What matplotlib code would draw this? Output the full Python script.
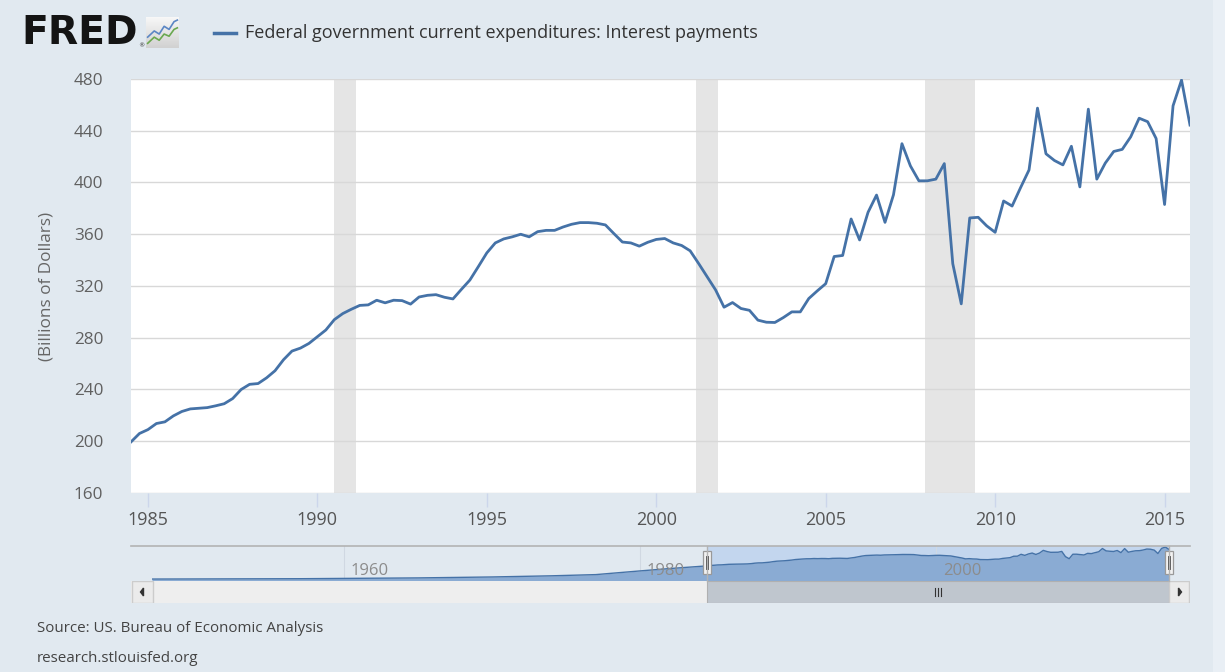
import matplotlib
matplotlib.use("Agg")
import matplotlib.pyplot as plt
from matplotlib.patches import Rectangle
from matplotlib.lines import Line2D
import numpy as np

plt.rcParams['font.family'] = ['Open Sans', 'DejaVu Sans']

# ---------------- data ----------------
start_year = 1984
start_quarter = 3
interest = [
    199.5, 206, 209, 213.7, 215, 219.6, 223, 225, 225.5, 226, 227.4, 229, 233,
    240, 244, 244.6, 249, 254.5, 263, 269.7, 272, 275.6, 280.8, 286, 294, 298.7,
    302, 305, 305.4, 309, 307, 309, 308.7, 306, 311.5, 312.8, 313.3, 311.3, 310,
    317.4, 324.6, 335, 345.6, 353.3, 356.4, 358, 360, 358, 362,
    363, 363, 365.6, 367.7, 369, 369, 368.5, 367.2, 360.5, 354, 353.3, 350.8,
    353.8, 356, 356.7, 353.3, 351.3, 347.2, 337.4, 327.2, 317, 303.6, 307.2,
    302.6, 301.2,
    293.6, 292, 291.8, 295.6, 300, 300, 310.3, 316.2, 321.8, 342.8, 343.6, 371.8,
    355.6, 377, 390.3, 369.2, 390.5, 430, 412.8, 401.3, 401.3, 402.6, 414.6,
    337.2, 306.2,
    372.6, 373.1, 366.5, 361.5, 385.7, 381.8, 396, 409.7, 457.5, 422.2, 417,
    413.6, 428, 396.6, 456.7, 402.6, 415, 424, 425.6, 435.3, 449.7, 447, 434,
    383, 459.3, 479.2, 444.4,
]
# earlier history shown only in the navigator (approximate readings)
nav_hist_years = [1947, 1952, 1957, 1960, 1965, 1970, 1974, 1977, 1980, 1982, 1984.25]
nav_hist_values = [4, 6, 9, 14, 21, 35, 52, 70, 125, 160, 195]

recessions = [(1990.5, 1991.13), (2001.17, 2001.83), (2007.92, 2009.42)]
yticks = [160, 200, 240, 280, 320, 360, 400, 440, 480]
xticks = [1985, 1990, 1995, 2000, 2005, 2010, 2015]
nav_ticks = [1960, 1980, 2000]

title = "Federal government current expenditures: Interest payments"
ylabel = "(Billions of Dollars)"
source1 = "Source: US. Bureau of Economic Analysis"
source2 = "research.stlouisfed.org"

# quarterly decimal dates
t = np.array([start_year + (start_quarter - 1) / 4 + i / 4 for i in range(len(interest))])
vals = np.array(interest)

# ---------------- figure ----------------
W, H = 1225, 672
BG = '#e1e9f0'
LINE = '#4572a7'
fig = plt.figure(figsize=(W / 100, H / 100), dpi=100, facecolor=BG)

def fx(x):
    return x / W

def fy(y):
    return 1 - y / H

def rect_ax(x0, y0, x1, y1):
    return [fx(x0), fy(y1), fx(x1) - fx(x0), fy(y0) - fy(y1)]

# main axes
ax = fig.add_axes(rect_ax(131, 79, 1190, 493))
ax.set_facecolor('white')
for a, b in recessions:
    ax.axvspan(a, b, color='#e5e5e5', lw=0, zorder=0)
ax.plot(t, vals, color=LINE, lw=2.0, zorder=3, solid_joinstyle='round')
ax.set_xlim(t[0], t[-1])
ax.set_ylim(yticks[0], yticks[-1])
ax.set_yticks(yticks)
ax.set_xticks(xticks)
ax.grid(axis='y', color='#d8d8d8', lw=1.0, zorder=1)
ax.set_axisbelow(True)
for s in ax.spines.values():
    s.set_visible(False)
ax.tick_params(axis='y', length=0, pad=20, labelsize=12.3, labelcolor='#606060')
ax.tick_params(axis='x', length=10, width=1, color='#ccd6eb', pad=3,
               labelsize=13, labelcolor='#555555', direction='out')
ax.set_ylabel(ylabel, fontsize=12.3, color='#666666')
ax.yaxis.set_label_coords((54 - 131) / (1190 - 131), 0.5)

# ---------------- header ----------------
fig.text(fx(21), fy(33), "FRED", fontsize=28.3, fontweight='heavy', color='#141414',
         family='DejaVu Sans', va='center', ha='left')
fig.text(fx(138), fy(46), "\u00ae", fontsize=4.5, color='#333333', va='center', ha='left',
         family='DejaVu Sans')
icon = fig.add_axes(rect_ax(146, 17, 179, 48))
icon.set_xlim(0, 1)
icon.set_ylim(0, 1)
grad = np.linspace(0.97, 0.82, 50).reshape(-1, 1)
icon.imshow(np.dstack([grad, grad, grad]), extent=[0, 1, 0, 1], aspect='auto')
icon.plot([0.05, 0.25, 0.4, 0.55, 0.7, 0.85, 0.95], [0.35, 0.55, 0.45, 0.7, 0.6, 0.85, 0.9],
          color='#5b86c4', lw=1.2)
icon.plot([0.05, 0.25, 0.4, 0.55, 0.7, 0.85, 0.95], [0.15, 0.35, 0.25, 0.45, 0.38, 0.6, 0.65],
          color='#6aa84f', lw=1.2)
icon.axis('off')

fig.add_artist(Line2D([fx(214), fx(236)], [fy(33), fy(33)], color=LINE, lw=2.5))
fig.text(fx(245), fy(33), title, fontsize=13.0, color='#333333', va='center', ha='left')

# ---------------- navigator ----------------
nav_x = np.concatenate([nav_hist_years, t])
nav_v = np.concatenate([nav_hist_values, vals])
nav = fig.add_axes(rect_ax(152, 546, 1169, 581))
nav.set_facecolor(BG)
nav.set_xlim(nav_hist_years[0], t[-1])
nav.set_ylim(-25, 495)
nav.axvspan(t[0], t[-1], color='#c3d6ee', lw=0, zorder=0)
for yr in nav_ticks:
    nav.axvline(yr, color='#d0d8e2', lw=0.8, zorder=0.5)
nav.fill_between(nav_x, -25, nav_v, color='#8aabd3', lw=0, zorder=1)
nav.plot(nav_x, nav_v, color=LINE, lw=1.0, zorder=2)
for yr in nav_ticks:
    nav.text(yr + 0.45, 125, str(yr), fontsize=12, color='#8c8c8c', va='center',
             ha='left', zorder=3)
nav.set_xticks([])
nav.set_yticks([])
for s in nav.spines.values():
    s.set_visible(False)

# outline
fig.add_artist(Line2D([fx(131), fx(1190)], [fy(546), fy(546)], color='#b3b3b3', lw=1.2))
for xp in (707, 1169):
    fig.add_artist(Line2D([fx(xp), fx(xp)], [fy(546), fy(581)], color='#b3b3b3', lw=1.0))

# scrollbar
sb = fig.add_axes(rect_ax(131, 581, 1190, 603))
sb.set_xlim(131, 1190)
sb.set_ylim(0, 1)
sb.axis('off')
sb.add_patch(Rectangle((131, 0), 1059, 1, facecolor='#eeeeee', edgecolor='none'))
sb.add_patch(Rectangle((707, 0), 462, 1, facecolor='#bfc6ce', edgecolor='#b0b0b0', lw=0.8))
sb.add_patch(Rectangle((131.5, 0.02), 21, 0.96, facecolor='#ebebeb', edgecolor='#cccccc', lw=1))
sb.add_patch(Rectangle((1169, 0.02), 20.5, 0.96, facecolor='#ebebeb', edgecolor='#cccccc', lw=1))
sb.fill([140.5, 143.5, 143.5], [0.5, 0.68, 0.32], color='#333333')
sb.fill([1181.5, 1178.5, 1178.5], [0.5, 0.68, 0.32], color='#333333')
for dx in (-3, 0, 3):
    sb.plot([938 + dx, 938 + dx], [0.33, 0.67], color='#333333', lw=0.8)

# handles
hd = fig.add_axes(rect_ax(0, 540, W, 590))
hd.set_xlim(0, W)
hd.set_ylim(590, 540)
hd.axis('off')
hd.patch.set_alpha(0)
for xp in (707, 1169):
    hd.add_patch(Rectangle((xp - 4, 551), 8, 23, facecolor='#f2f2f2', edgecolor='#999999', lw=0.9))
    for dx in (-1.3, 1.3):
        hd.plot([xp + dx, xp + dx], [556, 569], color='#333333', lw=0.6)

# right stripe
fig.add_artist(Rectangle((fx(1213), 0), 1 - fx(1213), 1, transform=fig.transFigure,
                         facecolor='#e9eff5', edgecolor='none'))

# ---------------- footer ----------------
fig.text(fx(37), fy(629), source1, fontsize=10.9, color='#444444', va='center', ha='left')
fig.text(fx(37), fy(658), source2, fontsize=10.9, color='#444444', va='center', ha='left')

fig.savefig("out.png", dpi=100, facecolor=BG)
